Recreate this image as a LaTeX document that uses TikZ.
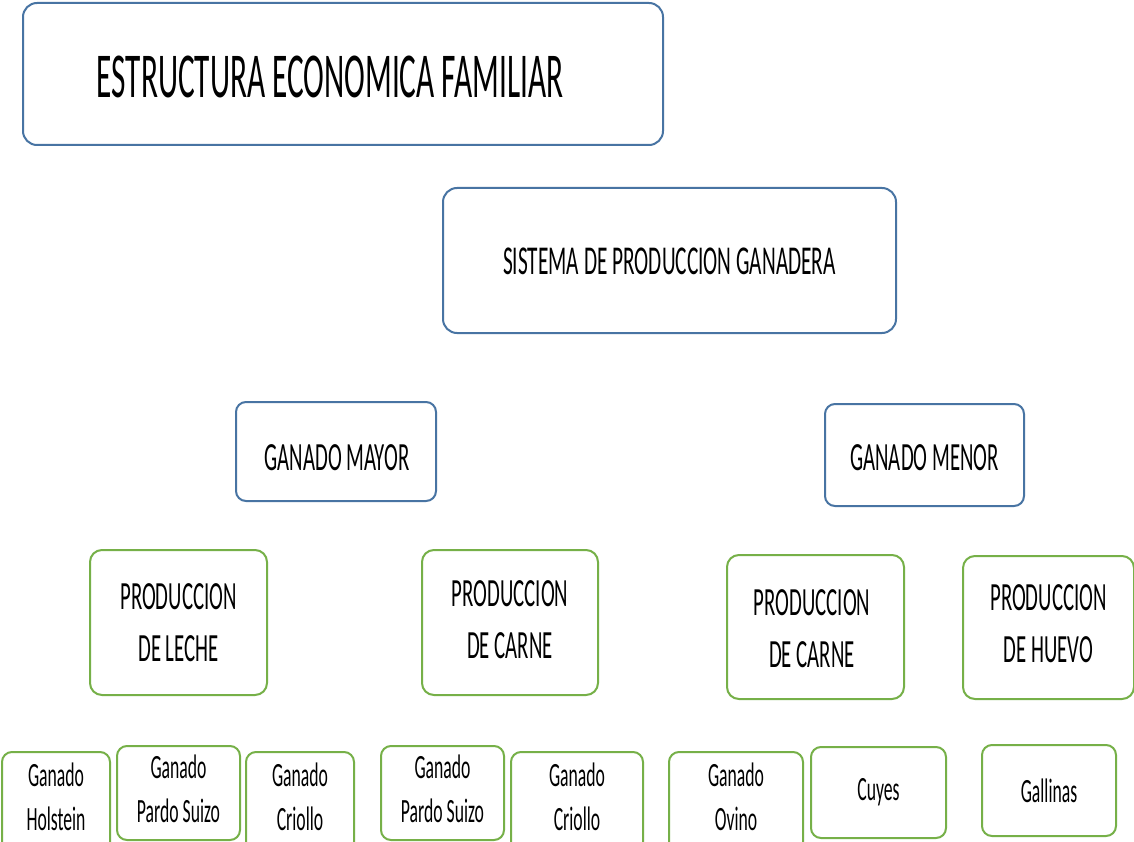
\documentclass[tikz,border=0pt]{standalone}
\usepackage{fontspec}
\setmainfont{Carlito}[FakeStretch=0.52]
\definecolor{bluebd}{RGB}{72,116,163}
\definecolor{greenbd}{RGB}{118,176,72}
\begin{document}
\begin{tikzpicture}[x=1pt,y=-1pt,
  bbox/.style={draw=bluebd,line width=2pt,rounded corners=14pt,inner sep=0pt},
  gbox/.style={draw=greenbd,line width=2pt,rounded corners=12pt,inner sep=0pt},
  txt/.style={align=center,inner sep=0pt},
  mid/.style={txt,font=\fontsize{40}{52}\selectfont},
  small/.style={txt,font=\fontsize{34}{44}\selectfont}]
\useasboundingbox[fill=white] (0,0) rectangle (1134,842);
% level 1
\node[bbox,minimum width=640pt,minimum height=142pt] (title) at (343,74) {};
\node[txt,font=\fontsize{64}{70}\selectfont] (titleT) at (330,77) {\scalebox{0.94}[1]{ESTRUCTURA ECONOMICA FAMILIAR}};
\node[bbox,minimum width=453pt,minimum height=145pt] (sis) at (669.5,260.5) {};
\node[txt,font=\fontsize{41}{50}\selectfont] (sisT) at (669.5,261) {SISTEMA DE PRODUCCION GANADERA};
% level 2
\node[bbox,rounded corners=10pt,minimum width=200pt,minimum height=99pt] (may) at (336,451.5) {};
\node[mid] (mayT) at (337,457.5) {GANADO MAYOR};
\node[bbox,rounded corners=10pt,minimum width=199pt,minimum height=102pt] (men) at (924.5,455) {};
\node[mid] (menT) at (924.5,458) {GANADO MENOR};
% level 3
\node[gbox,minimum width=177pt,minimum height=145pt] (leche) at (178.5,622.5) {};
\node[mid] (lecheT) at (178.5,622.5) {PRODUCCION\\DE LECHE};
\node[gbox,minimum width=176pt,minimum height=145pt] (carne1) at (510,622.5) {};
\node[mid] (carne1T) at (510,619.5) {PRODUCCION\\DE CARNE};
\node[gbox,minimum width=177pt,minimum height=144pt] (carne2) at (815.5,627) {};
\node[mid] (carne2T) at (812,629) {PRODUCCION\\DE CARNE};
\node[gbox,minimum width=171pt,minimum height=143pt] (huevo) at (1048.5,627.5) {};
\node[mid] (huevoT) at (1048.5,623.5) {PRODUCCION\\DE HUEVO};
% level 4
\node[gbox,rounded corners=10pt,minimum width=108pt,minimum height=100pt] (hol) at (56,802) {};
\node[small] (holT) at (56,797) {Ganado\\Holstein};
\node[gbox,rounded corners=10pt,minimum width=123pt,minimum height=94pt] (pardo1) at (178.5,793) {};
\node[small] (pardo1T) at (178.5,789) {Ganado\\Pardo Suizo};
\node[gbox,rounded corners=10pt,minimum width=108pt,minimum height=100pt] (crio1) at (300,802) {};
\node[small] (crio1T) at (300,797) {Ganado\\Criollo};
\node[gbox,rounded corners=10pt,minimum width=123pt,minimum height=94pt] (pardo2) at (442.5,793) {};
\node[small] (pardo2T) at (442.5,789) {Ganado\\Pardo Suizo};
\node[gbox,rounded corners=10pt,minimum width=132pt,minimum height=100pt] (crio2) at (577,802) {};
\node[small] (crio2T) at (577,797) {Ganado\\Criollo};
\node[gbox,rounded corners=10pt,minimum width=134pt,minimum height=100pt] (ovino) at (736,802) {};
\node[small] (ovinoT) at (736,797) {Ganado\\Ovino};
\node[gbox,rounded corners=10pt,minimum width=135pt,minimum height=91pt] (cuyes) at (878.5,792.5) {};
\node[small] (cuyesT) at (878.5,792.5) {Cuyes};
\node[gbox,rounded corners=10pt,minimum width=134pt,minimum height=91pt] (gall) at (1049,790.5) {};
\node[small] (gallT) at (1049,790.5) {Gallinas};
\end{tikzpicture}
\end{document}
